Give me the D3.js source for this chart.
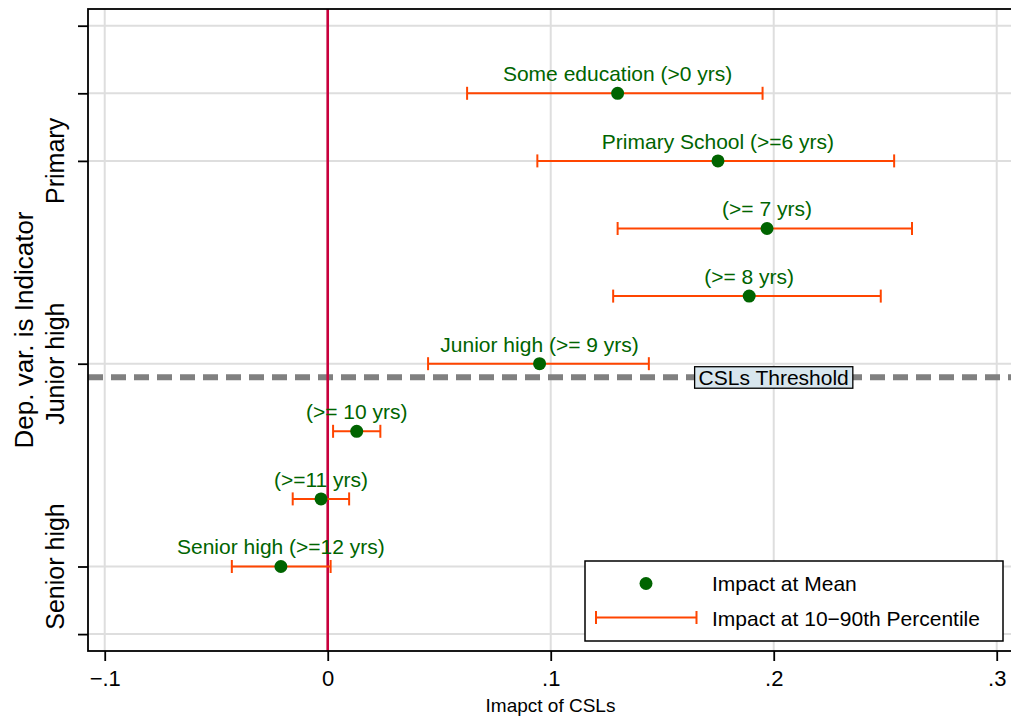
<!DOCTYPE html>
<html>
<head>
<meta charset="utf-8">
<script src="https://cdn.jsdelivr.net/npm/d3@7"></script>
<style>
  html, body { margin: 0; padding: 0; background: #fff; }
  svg { display: block; font-family: "Liberation Sans", Arial, sans-serif; }
</style>
</head>
<body>
<svg id="chart" width="1011" height="719"></svg>
<script>
// Education thresholds, one row each (row 1 at top)
const rowLabels = [
  "Some education (>0 yrs)",
  "Primary School (>=6 yrs)",
  "(>= 7 yrs)",
  "(>= 8 yrs)",
  "Junior high (>= 9 yrs)",
  "(>= 10 yrs)",
  "(>=11 yrs)",
  "Senior high (>=12 yrs)"
];
const rowPositions = [1, 2, 3, 4, 5, 6, 7, 8];

// Impact of CSLs at the mean and at the 10th / 90th percentiles
const impactMean = [0.130, 0.175, 0.197, 0.189, 0.095, 0.013, -0.003, -0.021];
const impactP10  = [0.0625, 0.094, 0.130, 0.128, 0.045, 0.0024, -0.0157, -0.043];
const impactP90  = [0.195, 0.254, 0.262, 0.248, 0.144, 0.0236, 0.0096, 0.0013];

// Axis ticks and labels
const xTicks = [-0.1, 0, 0.1, 0.2, 0.3];
const xTickLabels = ["\u2212.1", "0", ".1", ".2", ".3"];
const yTicks = [0, 1, 2, 5, 8, 9];
const yTickLabels = { 2: "Primary", 5: "Junior high", 8: "Senior high" };

// Horizontal reference line separating compulsory schooling levels
const thresholdRow = 5.2;
const thresholdLabel = "CSLs Threshold";
const thresholdLabelX = 0.2;

const legendItems = ["Impact at Mean", "Impact at 10\u221290th Percentile"];

const GREEN = "#006400";
const ORANGE = "#ff4500";
const CRANBERRY = "#c8003c";

const svg = d3.select("#chart");
const plot = { left: 88, right: 1013, top: 9, bottom: 651 };

const x = d3.scaleLinear().domain([-0.1075, 0.3073]).range([plot.left, plot.right]);
const y = d3.scaleLinear().domain([-0.247, 9.25]).range([plot.top, plot.bottom]);

const data = rowPositions.map((r, i) => ({
  row: r, label: rowLabels[i], mean: impactMean[i], lo: impactP10[i], hi: impactP90[i]
}));

// Gridlines
const grid = svg.append("g");
grid.selectAll("line.gx").data(xTicks).join("line")
  .attr("x1", d => x(d)).attr("x2", d => x(d))
  .attr("y1", plot.top).attr("y2", plot.bottom)
  .attr("stroke", "#dedede").attr("stroke-width", 2);
grid.selectAll("line.gy").data(yTicks).join("line")
  .attr("x1", plot.left).attr("x2", plot.right)
  .attr("y1", d => y(d)).attr("y2", d => y(d))
  .attr("stroke", "#dedede").attr("stroke-width", 2);

// Threshold dashed line
svg.append("line")
  .attr("x1", plot.left).attr("x2", plot.right)
  .attr("y1", y(thresholdRow)).attr("y2", y(thresholdRow))
  .attr("stroke", "#808080").attr("stroke-width", 6)
  .attr("stroke-dasharray", "15,8");

// Zero line
svg.append("line")
  .attr("x1", x(0)).attr("x2", x(0))
  .attr("y1", plot.top).attr("y2", plot.bottom)
  .attr("stroke", CRANBERRY).attr("stroke-width", 2.6);

// Threshold label
const tl = svg.append("g");
const tlText = tl.append("text")
  .attr("x", x(thresholdLabelX)).attr("y", y(thresholdRow) + 7.5)
  .attr("text-anchor", "middle").attr("font-size", 21).attr("fill", "#000")
  .text(thresholdLabel);
const bb = tlText.node().getBBox();
tl.insert("rect", "text")
  .attr("x", bb.x - 4).attr("y", y(thresholdRow) - 10.5)
  .attr("width", bb.width + 8).attr("height", 21.5)
  .attr("fill", "#d8e6ee").attr("stroke", "#000").attr("stroke-width", 1.3);

// Error bars (10th - 90th percentile)
const cap = 6.5;
const bars = svg.append("g").attr("stroke", ORANGE).attr("stroke-width", 2).attr("fill", "none");
bars.selectAll("line.span").data(data).join("line")
  .attr("x1", d => x(d.lo)).attr("x2", d => x(d.hi))
  .attr("y1", d => y(d.row)).attr("y2", d => y(d.row));
bars.selectAll("line.lo").data(data).join("line")
  .attr("x1", d => x(d.lo)).attr("x2", d => x(d.lo))
  .attr("y1", d => y(d.row) - cap).attr("y2", d => y(d.row) + cap);
bars.selectAll("line.hi").data(data).join("line")
  .attr("x1", d => x(d.hi)).attr("x2", d => x(d.hi))
  .attr("y1", d => y(d.row) - cap).attr("y2", d => y(d.row) + cap);

// Mean points
svg.append("g").selectAll("circle").data(data).join("circle")
  .attr("cx", d => x(d.mean)).attr("cy", d => y(d.row))
  .attr("r", 6.5).attr("fill", GREEN);

// Point labels
svg.append("g").selectAll("text").data(data).join("text")
  .attr("x", d => x(d.mean)).attr("y", d => y(d.row) - 12)
  .attr("text-anchor", "middle").attr("font-size", 21).attr("fill", GREEN)
  .text(d => d.label);

// Frame
svg.append("rect")
  .attr("x", plot.left).attr("y", plot.top)
  .attr("width", plot.right - plot.left).attr("height", plot.bottom - plot.top)
  .attr("fill", "none").attr("stroke", "#000").attr("stroke-width", 1.8);

// X axis
const xAxis = d3.axisBottom(x).tickValues(xTicks)
  .tickFormat((d, i) => xTickLabels[i]).tickSize(10).tickSizeOuter(0);
const gx = svg.append("g").attr("transform", `translate(0,${plot.bottom})`).call(xAxis);
gx.select(".domain").remove();
gx.selectAll(".tick line").attr("stroke", "#000").attr("stroke-width", 1.8);
gx.selectAll(".tick text").attr("font-size", 22).attr("font-family", "Liberation Sans, Arial, sans-serif")
  .attr("fill", "#000").attr("dy", null).attr("y", 35);

svg.append("text")
  .attr("x", (plot.left + 1011) / 2 + 1).attr("y", 712)
  .attr("text-anchor", "middle").attr("font-size", 19).attr("fill", "#000")
  .text("Imapct of CSLs");

// Y axis
const yAxis = d3.axisLeft(y).tickValues(yTicks).tickFormat("").tickSize(10).tickSizeOuter(0);
const gy = svg.append("g").attr("transform", `translate(${plot.left},0)`).call(yAxis);
gy.select(".domain").remove();
gy.selectAll(".tick line").attr("stroke", "#000").attr("stroke-width", 1.8);

svg.append("g").selectAll("text").data(Object.keys(yTickLabels).map(Number)).join("text")
  .attr("transform", d => `translate(64,${y(d)}) rotate(-90)`)
  .attr("text-anchor", "middle").attr("font-size", 25).attr("fill", "#000")
  .text(d => yTickLabels[d]);

svg.append("text")
  .attr("transform", `translate(33,${(plot.top + plot.bottom) / 2}) rotate(-90)`)
  .attr("text-anchor", "middle").attr("font-size", 26).attr("fill", "#000")
  .text("Dep. var. is Indicator");

// Legend
const lg = svg.append("g");
lg.append("rect")
  .attr("x", 585).attr("y", 561).attr("width", 418).attr("height", 80)
  .attr("fill", "#fff").attr("stroke", "#000").attr("stroke-width", 1.5);
lg.append("circle").attr("cx", 646).attr("cy", 583.5).attr("r", 6.5).attr("fill", GREEN);
const lgBar = lg.append("g").attr("stroke", ORANGE).attr("stroke-width", 2);
lgBar.append("line").attr("x1", 596).attr("x2", 696.5).attr("y1", 617.5).attr("y2", 617.5);
lgBar.append("line").attr("x1", 596).attr("x2", 596).attr("y1", 611).attr("y2", 624);
lgBar.append("line").attr("x1", 696.5).attr("x2", 696.5).attr("y1", 611).attr("y2", 624);
lg.selectAll("text").data(legendItems).join("text")
  .attr("x", 712).attr("y", (d, i) => 591 + i * 34.5)
  .attr("font-size", 21).attr("fill", "#000")
  .text(d => d);
</script>
</body>
</html>
